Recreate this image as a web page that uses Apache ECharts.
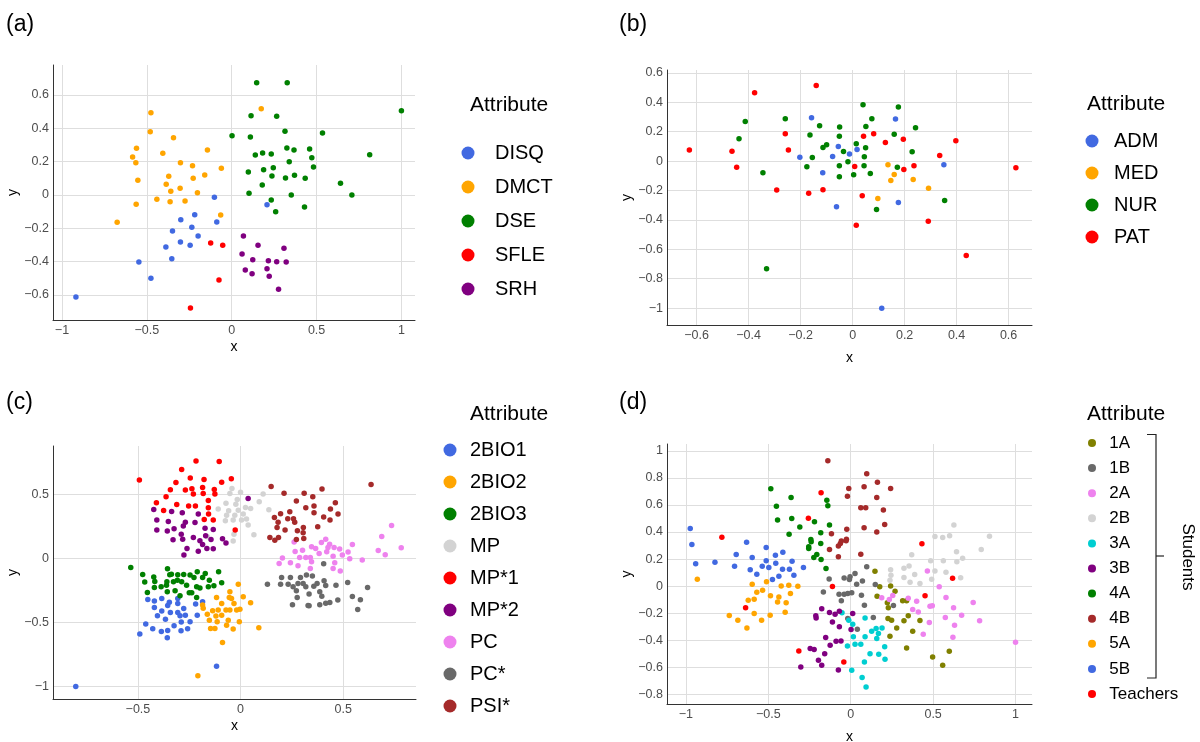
<!DOCTYPE html>
<html><head><meta charset="utf-8">
<script src="https://cdn.jsdelivr.net/npm/echarts@6/dist/echarts.min.js"></script>
<style>html,body{margin:0;padding:0;background:#fff}#c{width:1200px;height:742px}</style>
</head><body><div id="c"></div>
<script>
// ---------- Panel (a) ----------
const a_names = ['DISQ','DMCT','DSE','SFLE','SRH'];
const a_DISQ = [[-0.102,-0.014],[-0.218,-0.118],[-0.088,-0.162],[-0.30,-0.148],[-0.235,-0.194],[-0.349,-0.216],[-0.198,-0.246],[-0.302,-0.282],[-0.245,-0.302],[-0.388,-0.312],[-0.353,-0.382],[-0.547,-0.402],[-0.476,-0.50],[-0.918,-0.612],[0.208,-0.058]];
const a_DMCT = [[-0.476,0.494],[-0.480,0.38],[-0.343,0.344],[-0.561,0.28],[-0.584,0.228],[-0.565,0.194],[-0.406,0.25],[-0.143,0.27],[-0.302,0.194],[-0.231,0.176],[-0.061,0.16],[-0.553,0.088],[-0.371,0.112],[-0.227,0.10],[-0.159,0.12],[-0.386,0.064],[-0.359,0.022],[-0.304,0.04],[-0.202,0.014],[-0.441,-0.026],[-0.363,-0.04],[-0.275,-0.036],[-0.563,-0.056],[-0.065,-0.12],[-0.675,-0.164],[0.174,0.518]];
const a_DSE = [[0.002,0.356],[0.147,0.674],[0.327,0.674],[1.0,0.506],[0.114,0.476],[0.265,0.472],[0.110,0.348],[0.314,0.382],[0.535,0.372],[0.325,0.282],[0.367,0.27],[0.459,0.276],[0.139,0.24],[0.182,0.252],[0.233,0.246],[0.813,0.242],[0.472,0.224],[0.339,0.20],[0.482,0.168],[0.188,0.152],[0.245,0.164],[0.098,0.138],[0.237,0.114],[0.317,0.102],[0.370,0.118],[0.433,0.10],[0.180,0.06],[0.641,0.07],[0.102,0.01],[0.351,0.0],[0.708,0.0],[0.233,-0.03],[0.429,-0.072],[0.259,-0.10]];
const a_SFLE = [[-0.124,-0.288],[-0.053,-0.302],[-0.075,-0.51],[-0.243,-0.678]];
const a_SRH = [[0.069,-0.246],[0.155,-0.302],[0.308,-0.32],[0.061,-0.354],[0.124,-0.388],[0.216,-0.394],[0.265,-0.40],[0.321,-0.402],[0.080,-0.45],[0.120,-0.472],[0.208,-0.442],[0.221,-0.488],[0.276,-0.566]];
const a_xTicks = [-1,-0.5,0,0.5,1];
const a_yTicks = [-0.6,-0.4,-0.2,0,0.2,0.4,0.6];

// ---------- Panel (b) ----------
const b_names = ['ADM','MED','NUR','PAT'];
const b_ADM = [[-0.158,0.295],[-0.203,0.027],[-0.115,-0.079],[0.165,0.286],[-0.055,0.10],[0.017,0.079],[-0.012,0.048],[-0.077,0.032],[0.351,-0.025],[-0.062,-0.311],[0.176,-0.281],[0.112,-1.001]];
const b_MED = [[0.136,-0.025],[0.160,-0.091],[0.147,-0.132],[0.233,-0.125],[0.292,-0.184],[0.097,-0.254]];
const b_NUR = [[-0.413,0.27],[-0.437,0.152],[-0.345,-0.079],[-0.259,0.288],[-0.127,0.24],[-0.164,0.177],[-0.114,0.093],[-0.10,0.111],[-0.155,0.025],[-0.176,-0.039],[-0.331,-0.733],[0.040,0.384],[0.176,0.368],[0.074,0.288],[-0.050,0.232],[0.051,0.236],[0.242,0.227],[-0.051,0.170],[0.160,0.182],[0.014,0.118],[0.050,0.091],[-0.035,0.066],[0.229,0.064],[0.045,0.030],[-0.018,-0.005],[-0.051,-0.032],[0.044,-0.032],[0.172,-0.041],[0.004,-0.093],[-0.051,-0.107],[0.068,-0.084],[0.092,-0.329],[0.354,-0.268]];
const b_PAT = [[-0.628,0.075],[-0.464,0.068],[-0.446,-0.041],[-0.377,0.465],[-0.259,0.186],[-0.247,0.075],[-0.140,0.515],[-0.292,-0.197],[-0.169,-0.218],[-0.114,-0.195],[0.042,0.170],[0.081,0.186],[0.126,0.127],[0.195,0.148],[0.397,0.138],[0.335,0.039],[0.008,-0.036],[0.236,-0.032],[0.197,-0.057],[0.037,-0.236],[0.014,-0.436],[0.291,-0.409],[0.628,-0.045],[0.437,-0.642]];
const b_xTicks = [-0.6,-0.4,-0.2,0,0.2,0.4,0.6];
const b_yTicks = [-1,-0.8,-0.6,-0.4,-0.2,0,0.2,0.4,0.6];

// ---------- Panel (c) ----------
const c_names = ['2BIO1','2BIO2','2BIO3','MP','MP*1','MP*2','PC','PC*','PSI*'];
const c_2BIO1 = [[-0.452,-0.321],[-0.420,-0.334],[-0.384,-0.313],[-0.420,-0.384],[-0.355,-0.368],[-0.347,-0.342],[-0.306,-0.313],[-0.306,-0.352],[-0.405,-0.449],[-0.384,-0.412],[-0.342,-0.423],[-0.366,-0.475],[-0.306,-0.423],[-0.277,-0.391],[-0.269,-0.444],[-0.295,-0.449],[-0.462,-0.514],[-0.428,-0.55],[-0.386,-0.571],[-0.355,-0.564],[-0.324,-0.527],[-0.289,-0.498],[-0.290,-0.566],[-0.258,-0.55],[-0.357,-0.621],[-0.491,-0.592],[-0.803,-1.002],[-0.185,-0.339],[-0.219,-0.357],[-0.211,-0.444],[-0.246,-0.496],[-0.117,-0.843]];
const c_2BIO2 = [[-0.011,-0.201],[-0.052,-0.261],[-0.055,-0.305],[-0.117,-0.305],[-0.092,-0.352],[-0.044,-0.313],[-0.032,-0.352],[0.013,-0.300],[0.049,-0.347],[-0.136,-0.410],[-0.109,-0.404],[-0.071,-0.404],[-0.052,-0.404],[-0.019,-0.404],[-0.003,-0.397],[-0.162,-0.436],[-0.120,-0.451],[-0.092,-0.444],[-0.152,-0.483],[-0.114,-0.496],[-0.060,-0.483],[-0.006,-0.496],[-0.146,-0.548],[-0.125,-0.548],[-0.068,-0.522],[-0.036,-0.553],[0.089,-0.543],[-0.088,-0.657],[-0.208,-0.918],[-0.185,-0.365],[-0.182,-0.39]];
const c_2BIO3 = [[-0.535,-0.07],[-0.477,-0.125],[-0.467,-0.185],[-0.454,-0.266],[-0.423,-0.146],[-0.418,-0.18],[-0.42,-0.227],[-0.387,-0.222],[-0.361,-0.209],[-0.356,-0.081],[-0.345,-0.128],[-0.359,-0.183],[-0.357,-0.261],[-0.337,-0.123],[-0.319,-0.253],[-0.306,-0.128],[-0.295,-0.292],[-0.308,-0.17],[-0.277,-0.125],[-0.287,-0.183],[-0.263,-0.209],[-0.25,-0.269],[-0.327,-0.183],[-0.227,-0.149],[-0.185,-0.149],[-0.211,-0.104],[-0.172,-0.117],[-0.214,-0.222],[-0.152,-0.170],[-0.130,-0.214],[-0.157,-0.222],[-0.107,-0.104],[-0.092,-0.191],[-0.198,-0.232],[-0.238,-0.269],[-0.214,-0.305],[-0.246,-0.13]];
const c_MP = [[-0.042,0.548],[-0.052,0.509],[0.0,0.519],[0.110,0.504],[-0.016,0.462],[-0.071,0.431],[-0.023,0.425],[-0.109,0.386],[-0.058,0.373],[-0.011,0.378],[0.024,0.399],[0.049,0.391],[0.091,0.444],[0.138,0.381],[-0.068,0.339],[-0.028,0.339],[0.013,0.347],[0.029,0.308],[-0.074,0.295],[-0.036,0.300],[0.005,0.300],[0.037,0.261],[0.065,0.185],[-0.032,0.190],[-0.036,0.136],[-0.162,0.170]];
const c_MP1 = [[-0.493,0.613],[-0.287,0.697],[-0.315,0.595],[-0.342,0.537],[-0.269,0.535],[-0.363,0.483],[-0.410,0.436],[-0.311,0.423],[-0.375,0.376],[-0.253,0.41],[-0.217,0.762],[-0.104,0.759],[-0.245,0.629],[-0.178,0.618],[-0.237,0.545],[-0.185,0.556],[-0.128,0.540],[-0.092,0.597],[-0.045,0.624],[-0.230,0.504],[-0.182,0.509],[-0.125,0.504],[-0.157,0.454],[-0.220,0.410],[-0.157,0.397],[-0.156,0.347],[-0.177,0.305],[-0.133,0.300],[-0.026,0.222]];
const c_MP2 = [[-0.423,0.384],[-0.336,0.368],[-0.284,0.357],[-0.408,0.30],[-0.352,0.29],[-0.269,0.284],[-0.408,0.222],[-0.357,0.214],[-0.324,0.232],[-0.279,0.253],[-0.289,0.19],[-0.329,0.146],[-0.282,0.151],[-0.261,0.078],[-0.276,0.026],[-0.222,0.282],[-0.206,0.347],[-0.173,0.237],[-0.133,0.227],[-0.230,0.164],[-0.198,0.138],[-0.170,0.177],[-0.144,0.149],[-0.088,0.154],[-0.071,0.120],[-0.185,0.110],[-0.164,0.078],[-0.206,0.057],[-0.133,0.076],[0.037,0.47]];
const c_PC = [[0.261,0.128],[0.266,0.055],[0.302,0.065],[0.204,0.003],[0.188,-0.039],[0.243,-0.034],[0.280,-0.057],[0.288,0.008],[0.318,0.008],[0.346,0.091],[0.366,0.078],[0.394,0.125],[0.415,0.151],[0.434,0.112],[0.426,0.086],[0.456,0.086],[0.483,0.073],[0.496,0.026],[0.383,0.039],[0.420,0.052],[0.451,0.018],[0.340,0.008],[0.346,-0.026],[0.459,-0.034],[0.524,0.050],[0.545,0.110],[0.532,-0.003],[0.593,-0.013],[0.451,-0.078],[0.486,-0.099],[0.340,-0.078],[0.688,0.172],[0.736,0.258],[0.671,0.063],[0.705,0.029],[0.783,0.083]];
const c_PCs = [[0.131,-0.201],[0.195,-0.201],[0.200,-0.149],[0.243,-0.149],[0.232,-0.201],[0.256,-0.222],[0.272,-0.253],[0.292,-0.149],[0.305,-0.196],[0.318,-0.222],[0.253,-0.363],[0.276,-0.305],[0.329,-0.368],[0.321,-0.130],[0.280,-0.196],[0.405,-0.042],[0.350,-0.138],[0.357,-0.217],[0.373,-0.196],[0.407,-0.175],[0.415,-0.211],[0.386,-0.261],[0.396,-0.295],[0.334,-0.279],[0.465,-0.209],[0.522,-0.188],[0.619,-0.227],[0.545,-0.297],[0.584,-0.324],[0.571,-0.399],[0.474,-0.326],[0.435,-0.344],[0.415,-0.350],[0.386,-0.363],[0.334,-0.370]];
const c_PSI = [[0.149,0.564],[0.212,0.511],[0.310,0.511],[0.272,0.449],[0.318,0.397],[0.240,0.365],[0.165,0.321],[0.195,0.350],[0.230,0.311],[0.258,0.311],[0.264,0.284],[0.183,0.284],[0.178,0.243],[0.217,0.222],[0.277,0.217],[0.306,0.243],[0.305,0.201],[0.143,0.164],[0.167,0.143],[0.185,0.164],[0.272,0.149],[0.308,0.157],[0.397,0.543],[0.352,0.483],[0.462,0.436],[0.358,0.410],[0.358,0.357],[0.438,0.386],[0.475,0.347],[0.405,0.324],[0.436,0.300],[0.376,0.248],[0.636,0.579]];
const c_xTicks = [-0.5,0,0.5];
const c_yTicks = [-1,-0.5,0,0.5];

// ---------- Panel (d) ----------
const d_names = ['1A','1B','2A','2B','3A','3B','4A','4B','5A','5B','Teachers'];
const d_1A = [[0.147,0.111],[0.160,-0.074],[0.176,-0.005],[0.242,0.002],[0.269,-0.037],[0.222,-0.123],[0.228,-0.160],[0.315,-0.108],[0.339,-0.108],[0.349,-0.219],[0.323,-0.256],[0.420,-0.254],[0.226,-0.239],[0.248,-0.251],[0.279,-0.308],[0.376,-0.333],[0.238,-0.369],[0.339,-0.456],[0.497,-0.522],[0.598,-0.480],[0.558,-0.584]];
const d_1B = [[-0.131,0.054],[-0.166,-0.042],[-0.040,0.061],[-0.004,0.069],[-0.008,0.049],[0.026,0.094],[0.036,0.015],[0.071,0.039],[0.097,0.143],[-0.071,-0.059],[-0.057,-0.108],[-0.040,-0.059],[-0.018,-0.054],[0.006,-0.049],[0.065,-0.067],[0.083,-0.140],[-0.018,-0.239],[0.040,-0.318],[0.137,-0.232],[0.149,0.012],[0.259,-0.143]];
const d_2A = [[0.188,-0.086],[0.234,-0.099],[0.255,-0.069],[0.349,-0.089],[0.400,-0.111],[0.376,-0.172],[0.410,-0.190],[0.481,-0.148],[0.495,-0.145],[0.465,0.113],[0.537,-0.005],[0.578,-0.084],[0.624,-0.160],[0.673,-0.214],[0.743,-0.121],[0.782,-0.256],[0.477,-0.268],[0.574,-0.232],[0.630,-0.288],[0.440,-0.355],[0.620,-0.377],[1.0,-0.414]];
const d_2B = [[0.626,0.451],[0.511,0.367],[0.558,0.360],[0.600,0.372],[0.842,0.369],[0.792,0.271],[0.642,0.254],[0.679,0.207],[0.370,0.232],[0.485,0.187],[0.562,0.187],[0.644,0.180],[0.242,0.121],[0.244,0.081],[0.238,0.044],[0.323,0.133],[0.354,0.150],[0.323,0.064],[0.388,0.086],[0.360,0.030],[0.420,0.020],[0.491,0.052],[0.511,0.113],[0.578,0.103],[0.667,0.062]];
const d_3A = [[-0.053,-0.197],[0.012,-0.281],[0.087,-0.234],[0.127,-0.333],[0.087,-0.374],[0.154,-0.313],[0.158,-0.387],[0.190,-0.308],[0.016,-0.374],[0.026,-0.429],[-0.020,-0.441],[0.061,-0.429],[0.117,-0.498],[0.170,-0.502],[0.206,-0.448],[0.208,-0.539],[0.083,-0.559],[0.006,-0.621],[0.069,-0.675],[0.093,-0.744],[-0.012,-0.251],[0.168,-0.35]];
const d_3B = [[-0.176,-0.167],[-0.212,-0.219],[-0.210,-0.234],[-0.129,-0.195],[-0.095,-0.207],[-0.069,-0.185],[0.012,-0.202],[-0.111,-0.264],[-0.069,-0.300],[0.002,-0.320],[-0.152,-0.379],[-0.089,-0.406],[-0.059,-0.404],[-0.125,-0.436],[-0.246,-0.461],[-0.222,-0.468],[-0.158,-0.498],[-0.196,-0.547],[-0.176,-0.584],[-0.303,-0.596],[-0.075,-0.618]];
const d_4A = [[-0.485,0.719],[-0.451,0.591],[-0.444,0.488],[-0.362,0.655],[-0.358,0.5],[-0.309,0.438],[-0.374,0.384],[-0.220,0.475],[-0.242,0.345],[-0.240,0.328],[-0.255,0.291],[-0.255,0.278],[-0.182,0.315],[-0.182,0.394],[-0.206,0.234],[-0.224,0.212],[-0.180,0.197],[-0.150,0.131],[-0.145,0.635],[-0.139,0.594],[-0.129,0.451]];
const d_4B = [[-0.139,0.926],[0.097,0.830],[-0.012,0.722],[-0.020,0.665],[0.081,0.734],[0.162,0.768],[0.158,0.655],[0.061,0.579],[0.091,0.579],[0.198,0.562],[0.206,0.456],[0.081,0.431],[0.158,0.401],[-0.024,0.421],[-0.026,0.347],[-0.028,0.335],[-0.117,0.387],[-0.129,0.271],[-0.075,0.296],[-0.063,0.315],[-0.057,0.333],[-0.075,0.217],[0.061,0.236],[0.242,0.722]];
const d_5A = [[-0.931,0.052],[-0.598,0.015],[-0.570,-0.044],[-0.535,-0.030],[-0.511,0.032],[-0.487,-0.071],[-0.622,-0.103],[-0.586,-0.096],[-0.586,-0.202],[-0.489,-0.214],[-0.541,-0.251],[-0.630,-0.308],[-0.685,-0.251],[-0.737,-0.217],[-0.444,-0.116],[-0.436,-0.079],[-0.422,0.002],[-0.376,0.007],[-0.321,0.0],[-0.366,-0.054],[-0.392,-0.123],[-0.398,-0.192]];
const d_5B = [[-0.974,0.426],[-0.964,0.308],[-0.941,0.165],[-0.824,0.177],[-0.705,0.148],[-0.695,0.234],[-0.632,0.325],[-0.598,0.212],[-0.610,0.121],[-0.570,0.089],[-0.537,0.148],[-0.513,0.286],[-0.513,0.187],[-0.497,0.138],[-0.457,0.229],[-0.455,0.170],[-0.475,0.049],[-0.436,0.074],[-0.412,0.251],[-0.356,0.185],[-0.414,0.126],[-0.372,0.126],[-0.345,0.081],[-0.287,0.138]];
const d_Teachers = [[-0.782,0.362],[-0.638,-0.160],[-0.180,0.690],[-0.257,0.502],[-0.111,-0.002],[-0.315,-0.478],[-0.042,-0.559],[0.432,0.313],[0.618,0.059],[0.451,-0.071]];
const d_xTicks = [-1,-0.5,0,0.5,1];
const d_yTicks = [-0.8,-0.6,-0.4,-0.2,0,0.2,0.4,0.6,0.8,1];

// ---------- colours ----------
const COL = {blue:'#4169E1', orange:'#FFA500', green:'#008000', red:'#FF0000', purple:'#800080',
  lightgray:'#D3D3D3', violet:'#EE82EE', dimgray:'#696969', brown:'#A52A2A', olive:'#808000', cyan:'#00CED1'};

const FONT = 'Liberation Sans';
const fmt = v => String(v).replace('-', '\u2212');

const panels = [
  {grid:{left:53, top:65, width:362, height:255}, x:[-1.053,1.08,a_xTicks], y:[-0.75,0.78,a_yTicks], xGap:20,
   series:[[a_names[0],a_DISQ,COL.blue],[a_names[1],a_DMCT,COL.orange],[a_names[2],a_DSE,COL.green],[a_names[3],a_SFLE,COL.red],[a_names[4],a_SRH,COL.purple]]},
  {grid:{left:667, top:70, width:365, height:255}, x:[-0.714,0.69,b_xTicks], y:[-1.115,0.62,b_yTicks], xGap:26,
   series:[[b_names[0],b_ADM,COL.blue],[b_names[1],b_MED,COL.orange],[b_names[2],b_NUR,COL.green],[b_names[3],b_PAT,COL.red]]},
  {grid:{left:53, top:446, width:363, height:253}, x:[-0.914,0.855,c_xTicks], y:[-1.1,0.88,c_yTicks], xGap:20,
   series:[[c_names[0],c_2BIO1,COL.blue],[c_names[1],c_2BIO2,COL.orange],[c_names[2],c_2BIO3,COL.green],[c_names[3],c_MP,COL.lightgray],[c_names[4],c_MP1,COL.red],[c_names[5],c_MP2,COL.purple],[c_names[6],c_PC,COL.violet],[c_names[7],c_PCs,COL.dimgray],[c_names[8],c_PSI,COL.brown]]},
  {grid:{left:667, top:444, width:365, height:260}, x:[-1.115,1.1,d_xTicks], y:[-0.87,1.05,d_yTicks], xGap:26,
   series:[[d_names[0],d_1A,COL.olive],[d_names[1],d_1B,COL.dimgray],[d_names[2],d_2A,COL.violet],[d_names[3],d_2B,COL.lightgray],[d_names[4],d_3A,COL.cyan],[d_names[5],d_3B,COL.purple],[d_names[6],d_4A,COL.green],[d_names[7],d_4B,COL.brown],[d_names[8],d_5A,COL.orange],[d_names[9],d_5B,COL.blue],[d_names[10],d_Teachers,COL.red]]}
];

const grids=[], xAxes=[], yAxes=[], series=[];
panels.forEach((p,i)=>{
  grids.push(Object.assign({outerBoundsMode:'none', containLabel:false}, p.grid));
  const axisCommon = (ticks) => ({
    type:'value', axisLine:{show:true, onZero:false, lineStyle:{color:'#333', width:1}},
    axisTick:{show:false, customValues:ticks},
    axisLabel:{customValues:ticks, formatter:fmt, color:'#4d4d4d', fontSize:12.5, fontFamily:FONT, margin:4},
    splitLine:{show:true, lineStyle:{color:'#dedede', width:1}},
    nameLocation:'middle', nameTextStyle:{color:'#000', fontSize:14, fontFamily:FONT}
  });
  xAxes.push(Object.assign(axisCommon(p.x[2]), {gridIndex:i, min:p.x[0], max:p.x[1], name:'x', nameGap:p.xGap}));
  yAxes.push(Object.assign(axisCommon(p.y[2]), {gridIndex:i, min:p.y[0], max:p.y[1], name:'y', nameGap:33}));
  p.series.forEach(s=>{
    series.push({type:'scatter', name:s[0], data:s[1], xAxisIndex:i, yAxisIndex:i,
      symbol:'circle', symbolSize:5.5, itemStyle:{color:s[2], opacity:1}, emphasis:{disabled:true}});
  });
});

const legendBase = (names, left, top, gap, fs, isz, pad) => ({
  data:names, orient:'vertical', left:left, top:top, itemGap:gap, itemWidth:isz, itemHeight:isz,
  icon:'circle', selectedMode:false, padding:0,
  textStyle:{fontSize:fs, color:'#000', fontFamily:FONT, padding:[0,0,0,pad], lineHeight:fs}
});

const titleT = (text, left, top, fs) => ({text, left, top, padding:0,
  textStyle:{fontSize:fs, fontWeight:'normal', color:'#000', fontFamily:FONT}});

const option = {
  animation:false,
  textStyle:{fontFamily:FONT},
  title:[
    titleT('(a)',6,13,23), titleT('(b)',619,13,23), titleT('(c)',6,391,23), titleT('(d)',619,391,23),
    titleT('Attribute',470,95,21), titleT('Attribute',1087,94,21), titleT('Attribute',470,404,21), titleT('Attribute',1087,404,21)
  ],
  grid:grids, xAxis:xAxes, yAxis:yAxes, series:series,
  legend:[
    legendBase(a_names, 461.5, 143, 14, 20, 13, 15.5),
    legendBase(b_names, 1085.5, 131, 12, 20, 13, 10.5),
    legendBase(c_names, 443.5, 440, 12, 20, 13, 8.5),
    legendBase(d_names, 1088, 434.5, 8.1, 17, 8, 8.3)
  ],
  graphic:[
    {type:'polyline', shape:{points:[[1147,434.5],[1156,434.5],[1156,678],[1147,678]]}, style:{stroke:'#222', fill:null, lineWidth:1.2}},
    {type:'line', shape:{x1:1156,y1:556,x2:1164,y2:556}, style:{stroke:'#222', lineWidth:1.2}},
    {type:'text', x:1188, y:557, rotation:-Math.PI/2, style:{text:'Students', fontSize:17, fontFamily:FONT, fill:'#000', align:'center', verticalAlign:'middle'}}
  ]
};
const chart = echarts.init(document.getElementById('c'), null, {renderer:'canvas'});
chart.setOption(option);
</script></body></html>
